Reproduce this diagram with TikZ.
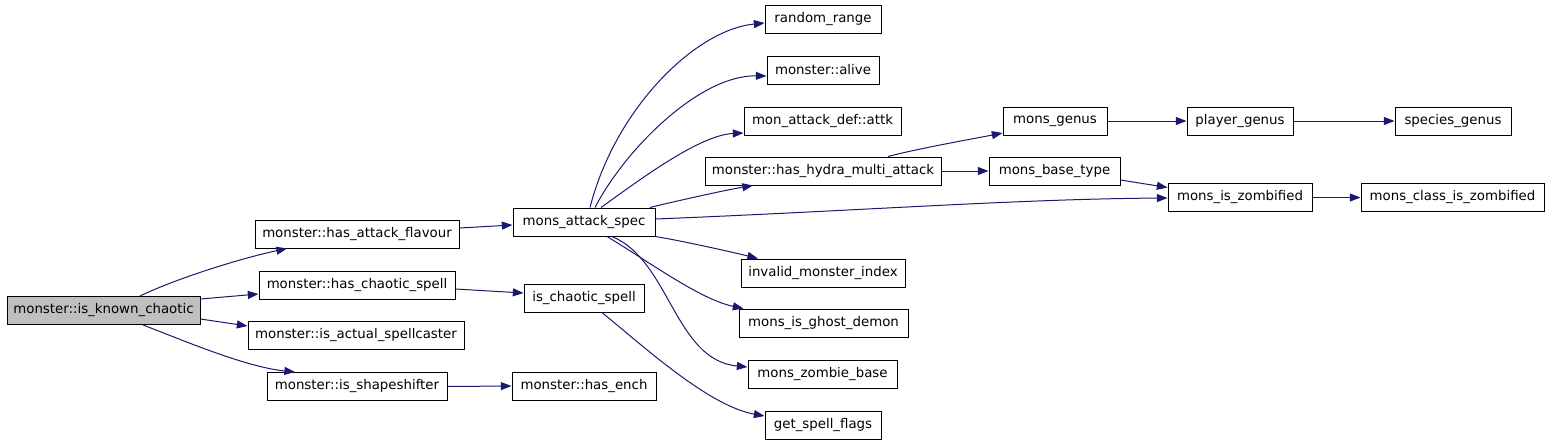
\documentclass[tikz,border=0pt]{standalone}
\usepackage{fontspec}
\setmainfont{DejaVu Sans}
\usetikzlibrary{arrows.meta,calc}
\newdimen\pxu
\pxu=0.75pt
\definecolor{edgeblue}{HTML}{191970}
\definecolor{rootgray}{HTML}{BFBFBF}
\tikzset{
  fn/.style={draw=black, line width=0.75pt, inner sep=0pt, minimum height=28\pxu, font=\fontsize{10}{12}\selectfont},
  root/.style={fn, fill=rootgray},
  call/.style={draw=edgeblue, line width=0.75pt, -{Triangle[length=8pt,width=6pt]}}
}
\begin{document}
\begin{tikzpicture}[x=0.75pt,y=-0.75pt]
\useasboundingbox (0,0) rectangle (1549,443);
\node[root, minimum width=193\pxu] (known) at (103.5,310.5) {monster::is\_known\_chaotic};
\node[fn, minimum width=204\pxu] (flavour) at (357,234) {monster::has\_attack\_flavour};
\node[fn, minimum width=196\pxu] (chaoticspell) at (357,285) {monster::has\_chaotic\_spell};
\node[fn, minimum width=216\pxu] (spellcaster) at (356,335) {monster::is\_actual\_spellcaster};
\node[fn, minimum width=180\pxu] (shapeshifter) at (357,386.5) {monster::is\_shapeshifter};
\node[fn, minimum width=142\pxu] (attackspec) at (584,222) {mons\_attack\_spec};
\node[fn, minimum width=120\pxu] (ischaotic) at (584,298) {is\_chaotic\_spell};
\node[fn, minimum width=144\pxu] (hasench) at (584,386) {monster::has\_ench};
\node[fn, minimum width=116\pxu] (randomrange) at (823,19) {random\_range};
\node[fn, minimum width=112\pxu] (alive) at (823,70) {monster::alive};
\node[fn, minimum width=157\pxu] (attk) at (822.5,121) {mon\_attack\_def::attk};
\node[fn, minimum width=236\pxu] (hydra) at (823,171) {monster::has\_hydra\_multi\_attack};
\node[fn, minimum width=164\pxu] (invalid) at (823,273) {invalid\_monster\_index};
\node[fn, minimum width=169\pxu] (ghost) at (823.5,323) {mons\_is\_ghost\_demon};
\node[fn, minimum width=149\pxu] (zombiebase) at (822.5,374) {mons\_zombie\_base};
\node[fn, minimum width=116\pxu] (spellflags) at (823,425) {get\_spell\_flags};
\node[fn, minimum width=104\pxu] (genus) at (1055,121) {mons\_genus};
\node[fn, minimum width=131\pxu] (basetype) at (1054.5,171) {mons\_base\_type};
\node[fn, minimum width=144\pxu] (zombified) at (1240,197.5) {mons\_is\_zombified};
\node[fn, minimum width=106\pxu] (playergenus) at (1240,121) {player\_genus};
\node[fn, minimum width=116\pxu] (speciesgenus) at (1453,121) {species\_genus};
\node[fn, minimum width=183\pxu] (classzomb) at (1452.5,197.5) {mons\_class\_is\_zombified};
\draw[call] ($(known.north)+(36.5,0)$) .. controls +(35,-17) and +(-47,10) .. ($(flavour.south)+(-70,0)$);
\draw[call] ($(known.east)+(0,-11.5)$) -- ($(chaoticspell.west)+(0,9)$);
\draw[call] ($(known.east)+(0,8.5)$) -- ($(spellcaster.west)+(0,-9)$);
\draw[call] ($(known.south)+(39.5,0)$) .. controls +(37,14) and +(-50,-5) .. ($(shapeshifter.north)+(-62,0)$);
\draw[call] ($(flavour.east)+(0,-6)$) -- ($(attackspec.west)+(0,3)$);
\draw[call] ($(chaoticspell.east)+(0,4)$) -- ($(ischaotic.west)+(0,-5)$);
\draw[call] (shapeshifter.east) -- (hasench.west);
\draw[call] ($(ischaotic.south)+(18,0)$) .. controls +(45,37) and +(-55,-10) .. ($(spellflags.west)+(0,-9)$);
\draw[call] ($(attackspec.north)+(6,0)$) .. controls +(25,-98) and +(-70,7) .. ($(randomrange.west)+(0,4)$);
\draw[call] ($(attackspec.north)+(11,0)$) .. controls +(30,-58) and +(-67,-1) .. ($(alive.west)+(0,6)$);
\draw[call] ($(attackspec.north)+(17,0)$) .. controls +(39,-28) and +(-44,2) .. ($(attk.west)+(0,12)$);
\draw[call] ($(attackspec.north)+(66,0)$) .. controls +(20,-5) and +(-30,5) .. ($(hydra.south)+(-70,0)$);
\draw[call] ($(attackspec.east)+(0,-3)$) .. controls +(200,-8) and +(-150,1) .. ($(zombified.west)+(0,0.5)$);
\draw[call] (attackspec.south east) .. controls +(30,5) and +(-20,-5) .. ($(invalid.north)+(-65,0)$);
\draw[call] ($(attackspec.south)+(23,0)$) .. controls +(43,26) and +(-43,-9) .. ($(ghost.north)+(-80,0)$);
\draw[call] ($(attackspec.south)+(28,0)$) .. controls +(58,24) and +(-73,-7) .. ($(zombiebase.west)+(0,-7)$);
\draw[call] ($(hydra.north)+(65,0)$) .. controls +(30,-8) and +(-25,5) .. ($(genus.west)+(0,12)$);
\draw[call] (hydra.east) -- (basetype.west);
\draw[call] (genus.east) -- (playergenus.west);
\draw[call] (playergenus.east) -- (speciesgenus.west);
\draw[call] ($(basetype.east)+(0,9)$) -- ($(zombified.west)+(0,-10)$);
\draw[call] (zombified.east) -- (classzomb.west);
\end{tikzpicture}
\end{document}
